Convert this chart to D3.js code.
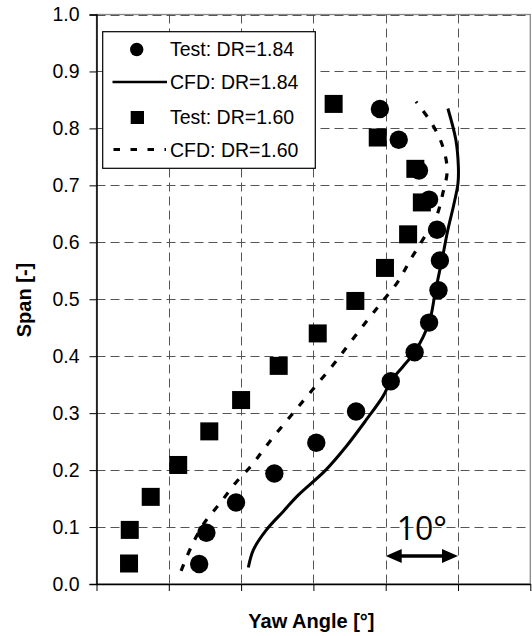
<!DOCTYPE html>
<html><head><meta charset="utf-8">
<script src="https://cdn.jsdelivr.net/npm/d3@7"></script>
<style>body{margin:0;background:#fff}svg{display:block}</style>
</head><body>
<svg id="c" width="532" height="636"></svg>
<script>
// Data (yaw angle in degrees relative to left edge, span fraction)
const spanTicks = [0.0,0.1,0.2,0.3,0.4,0.5,0.6,0.7,0.8,0.9,1.0];
const yawGrid = [0,10,20,30,40,50,60];
const testDR184_yaw  = [39.2,41.8,44.6,46.0,47.1,47.5,47.3,46.0,44.0,40.7,35.9,30.4,24.6,19.3,15.2,14.2];
const testDR184_span = [0.834,0.780,0.726,0.675,0.622,0.568,0.516,0.459,0.407,0.356,0.303,0.248,0.194,0.143,0.090,0.035];
const testDR160_yaw  = [32.8,38.9,44.1,45.0,43.1,39.9,35.8,30.6,25.2,20.0,15.6,11.3,7.5,4.6,4.5];
const testDR160_span = [0.843,0.784,0.729,0.670,0.614,0.555,0.497,0.440,0.383,0.323,0.268,0.209,0.153,0.095,0.036];
const cfdDR184_yaw  = [21.0,21.7,23.5,25.8,27.9,31.7,34.5,37.3,39.6,40.7,42.4,44.0,46.0,46.9,47.8,48.6,49.4,50.0,50.05,49.7,48.6];
const cfdDR184_span = [0.029,0.060,0.095,0.127,0.156,0.200,0.241,0.288,0.329,0.356,0.382,0.407,0.459,0.516,0.570,0.622,0.665,0.704,0.733,0.780,0.835];
const cfdDR160_yaw  = [11.7,13.2,15.0,17.1,19.2,21.5,23.4,25.8,28.0,30.4,32.9,35.0,37.3,39.4,41.7,43.4,45.1,47.0,47.9,48.5,47.9,46.5,44.2];
const cfdDR160_span = [0.023,0.068,0.109,0.142,0.177,0.209,0.241,0.279,0.3125,0.349,0.3875,0.4226,0.4606,0.494,0.531,0.569,0.604,0.645,0.686,0.726,0.768,0.806,0.847];
const legendLabels = ["Test: DR=1.84","CFD: DR=1.84","Test: DR=1.60","CFD: DR=1.60"];
const scaleBar = {from:40, to:50, span:0.049, label:"10°", labelSpan:0.077};

const svg = d3.select("#c");
const L = 96.5, R = 530.3, T = 14.5, B = 584;
const x = d3.scaleLinear().domain([0,60]).range([L,R]);
const y = d3.scaleLinear().domain([0,1]).range([B,T]);
const font = "Arial, 'Liberation Sans', sans-serif";

// plot border
svg.append("rect").attr("x",L).attr("y",T).attr("width",R-L).attr("height",B-T)
  .attr("fill","none").attr("stroke","#888").attr("stroke-width",1.3);

// gridlines
const g = svg.append("g");
g.selectAll(".hg").data(spanTicks.slice(1)).join("line")
  .attr("x1",L).attr("x2",R).attr("y1",d=>Math.round(y(d))+0.5).attr("y2",d=>Math.round(y(d))+0.5)
  .attr("stroke","#555").attr("stroke-width",1).attr("stroke-dasharray","9,5");
g.selectAll(".vg").data(yawGrid.slice(1,-1)).join("line")
  .attr("y1",T).attr("y2",B).attr("x1",d=>Math.round(x(d))+0.5).attr("x2",d=>Math.round(x(d))+0.5)
  .attr("stroke","#555").attr("stroke-width",1).attr("stroke-dasharray","9,5");

// axes
const yAxis = d3.axisLeft(y).tickValues(spanTicks).tickFormat(d3.format(".1f")).tickSize(7).tickPadding(10);
const ya = svg.append("g").attr("transform",`translate(${L},0)`).call(yAxis);
ya.select(".domain").attr("stroke","#000").attr("stroke-width",1.5);
ya.selectAll(".tick line").attr("stroke","#000");
ya.selectAll("text").attr("font-family",font).attr("font-size",19.5).attr("fill","#000");
const xAxis = d3.axisBottom(x).tickValues(yawGrid).tickFormat("").tickSize(7).tickSizeOuter(0);
const xa = svg.append("g").attr("transform",`translate(0,${B})`).call(xAxis);
xa.select(".domain").attr("stroke","#000").attr("stroke-width",1.5);
xa.selectAll(".tick line").attr("stroke","#000");

// axis titles
svg.append("text").attr("x",(L+R)/2-2).attr("y",628).attr("text-anchor","middle")
  .attr("font-family",font).attr("font-weight","bold").attr("font-size",20).text("Yaw Angle [°]");
svg.append("text").attr("transform","translate(31,300) rotate(-90)").attr("text-anchor","middle")
  .attr("font-family",font).attr("font-weight","bold").attr("font-size",20).text("Span [-]");

// CFD lines
const line = d3.line().x(d=>x(d[0])).y(d=>y(d[1])).curve(d3.curveCatmullRom.alpha(0.5));
svg.append("path").datum(d3.zip(cfdDR184_yaw,cfdDR184_span)).attr("d",line)
  .attr("fill","none").attr("stroke","#000").attr("stroke-width",3);
svg.append("path").datum(d3.zip(cfdDR160_yaw,cfdDR160_span)).attr("d",line)
  .attr("fill","none").attr("stroke","#000").attr("stroke-width",3.2).attr("stroke-dasharray","7,10");

// markers
svg.append("g").selectAll("rect").data(d3.zip(testDR160_yaw,testDR160_span)).join("rect")
  .attr("x",d=>x(d[0])-9).attr("y",d=>y(d[1])-9).attr("width",18).attr("height",18).attr("fill","#000");
svg.append("g").selectAll("circle").data(d3.zip(testDR184_yaw,testDR184_span)).join("circle")
  .attr("cx",d=>x(d[0])).attr("cy",d=>y(d[1])).attr("r",9.2).attr("fill","#000");

// scale bar annotation
const ay = y(scaleBar.span);
svg.append("line").attr("x1",x(scaleBar.from)+12).attr("x2",x(scaleBar.to)-12).attr("y1",ay).attr("y2",ay)
  .attr("stroke","#000").attr("stroke-width",3.5);
const x0 = x(scaleBar.from), x1 = x(scaleBar.to);
svg.append("path").attr("d",`M${x0},${ay}L${x0+16},${ay-7}L${x0+16},${ay+7}Z`).attr("fill","#000");
svg.append("path").attr("d",`M${x1},${ay}L${x1-16},${ay-7}L${x1-16},${ay+7}Z`).attr("fill","#000");
svg.append("text").attr("x",(x0+x1)/2).attr("y",y(scaleBar.labelSpan)).attr("text-anchor","middle")
  .attr("font-family","'Open Sans', 'Noto Sans', sans-serif").attr("font-size",32).text(scaleBar.label);

// legend
const lg = svg.append("g");
lg.append("rect").attr("x",102.7).attr("y",31.7).attr("width",212.6).attr("height",136.6)
  .attr("fill","#fff").attr("stroke","#000").attr("stroke-width",1.2);
const baselines = [55.7,89,124,157.3];
lg.selectAll("text").data(legendLabels).join("text").attr("x",170).attr("y",(d,i)=>baselines[i])
  .attr("font-family",font).attr("font-size",19.5).text(d=>d);
lg.append("circle").attr("cx",136.7).attr("cy",49.5).attr("r",6.7).attr("fill","#000");
lg.append("line").attr("x1",112.5).attr("x2",167).attr("y1",82).attr("y2",82).attr("stroke","#000").attr("stroke-width",2.6);
lg.append("rect").attr("x",130.7).attr("y",111).attr("width",13.3).attr("height",13).attr("fill","#000");
lg.append("line").attr("x1",113.5).attr("x2",166).attr("y1",149.5).attr("y2",149.5).attr("stroke","#000")
  .attr("stroke-width",3).attr("stroke-dasharray","6.5,10.5");
</script>
</body></html>
